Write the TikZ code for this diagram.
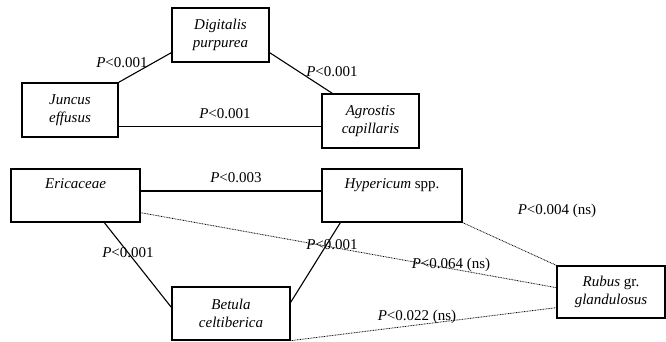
\documentclass[tikz,border=0pt]{standalone}
\usepackage{fontspec}
\setmainfont{Liberation Serif}
\usetikzlibrary{calc}
\begin{document}
\begin{tikzpicture}[x=1pt,y=-1pt,
  box/.style={draw,line width=1.3pt,align=center,inner sep=0pt,font=\fontsize{15}{18}\selectfont\itshape},
  lab/.style={inner sep=0pt,font=\fontsize{15}{18}\selectfont},
  solidline/.style={line width=1.1pt},
  dotline/.style={line width=0.8pt,dash pattern=on 0.8pt off 0.8pt,black}]
\useasboundingbox (0,0) rectangle (666,342);
\node[box,minimum width=97pt,minimum height=54pt] (dig) at (220.5,35) {Digitalis\\purpurea};
\node[box,minimum width=96pt,minimum height=54pt] (jun) at (70,110) {Juncus\\effusus};
\node[box,minimum width=97pt,minimum height=54pt] (agr) at (370.5,121) {Agrostis\\capillaris};
\node[box,minimum width=129pt,minimum height=53pt] (eri) at (75.5,195.5) {Ericaceae\\\strut};
\node[box,minimum width=140pt,minimum height=53pt] (hyp) at (392,195.5) {Hypericum \upshape spp.\\\strut};
\node[box,minimum width=118pt,minimum height=53pt] (bet) at (231,313.5) {Betula\\celtiberica};
\node[box,minimum width=108pt,minimum height=52pt] (rub) at (611,292) {Rubus \upshape gr.\\glandulosus};

\draw[solidline] (jun.north east) -- ($(dig.south west)+(0,-10)$);
\draw[solidline] ($(dig.south east)+(0,-10)$) -- ($(agr.north west)+(11,0)$);
\draw[solidline] ($(jun.south east)+(0,-11)$) coordinate (j1) -- (j1 -| agr.west);
\draw[solidline] ($(eri.east)+(0,-4.5)$) coordinate (e1) -- (e1 -| hyp.west);
\draw[solidline] ($(eri.south west)+(94,0)$) -- ($(bet.north west)+(0,21)$);
\draw[solidline] ($(hyp.south west)+(19,0)$) -- ($(bet.north east)+(0,16)$);
\draw[dotline] ($(eri.south east)+(0,-10)$) -- ($(rub.south west)+(0,-31)$);
\draw[dotline] (hyp.south east) -- (rub.north west);
\draw[dotline] (bet.south east) -- ($(rub.south west)+(0,-11)$);

\node[lab] (l1) at (122,63) {\textit{P}<0.001};
\node[lab] (l2) at (332,72) {\textit{P}<0.001};
\node[lab] (l3) at (225,114) {\textit{P}<0.001};
\node[lab] (l4) at (236,178) {\textit{P}<0.003};
\node[lab] (l5) at (128,253) {\textit{P}<0.001};
\node[lab] (l6) at (332,245) {\textit{P}<0.001};
\node[lab] (l7) at (451,265) {\textit{P}<0.064 (ns)};
\node[lab] (l8) at (557,211) {\textit{P}<0.004 (ns)};
\node[lab] (l9) at (417,317) {\textit{P}<0.022 (ns)};
\end{tikzpicture}
\end{document}
